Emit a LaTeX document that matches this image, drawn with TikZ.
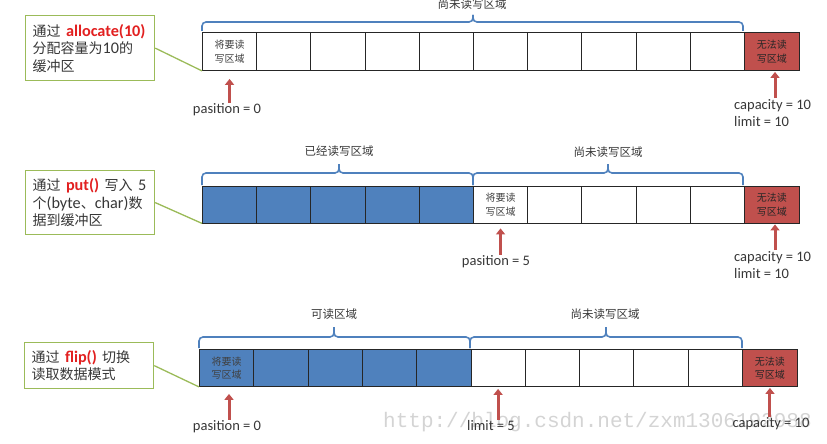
\documentclass[tikz,border=0pt]{standalone}
\usepackage{fontspec}
\setmainfont{Carlito}[Scale=1.16]
\newfontfamily\cjk{Noto Sans CJK SC}
\newfontfamily\wmfont{Liberation Mono}
\usetikzlibrary{arrows.meta}
\definecolor{cellblue}{RGB}{79,129,189}
\definecolor{cellred}{RGB}{192,80,77}
\definecolor{calloutgreen}{RGB}{155,187,89}
\definecolor{hlred}{RGB}{226,32,32}
\definecolor{txt}{RGB}{55,55,55}
\newcommand\zh[1]{{\cjk #1}}
\tikzset{
  cell/.style={draw=black!85, line width=0.9pt, inner sep=0pt, anchor=north west,
    font=\cjk\fontsize{10}{13.5}\selectfont, align=center, text=black!75},
  bluecell/.style={cell, fill=cellblue},
  redcell/.style={cell, fill=cellred, text=black!85},
  callout/.style={draw=calloutgreen, line width=1.2pt, fill=white, anchor=north west,
    text width=115pt, inner xsep=7pt, align=left, font=\fontsize{14}{17.5}\selectfont, text=txt},
  link/.style={draw=calloutgreen, line width=1.3pt},
  bracestyle/.style={draw=cellblue, line width=1.6pt, rounded corners=4pt},
  bracelabel/.style={font=\cjk\fontsize{11.5}{13}\selectfont, text=txt, inner sep=1pt},
  lbl/.style={font=\fontsize{12.5}{17}\selectfont, text=txt, inner sep=1pt},
  redarrow/.style={draw=cellred, line width=3pt, -{Triangle[width=9pt,length=6pt]}},
}
\begin{document}
\begin{tikzpicture}[x=1pt,y=-1pt]
\useasboundingbox (0,0) rectangle (827,444);
% watermark
\node[text=black!17, font=\wmfont\fontsize{21}{21}\selectfont, anchor=west, inner sep=0pt] (wm) at (383,422) {http://blog.csdn.net/zxm1306192988};

% ---------------- Row 1 ----------------
\node[cell, minimum width=54.2pt, minimum height=38pt] (a0) at (202,32) {将要读\\写区域};
\foreach \i in {1,...,9}
  \node[cell, minimum width=54.2pt, minimum height=38pt] (a\i) at ({202+\i*54.2},32) {};
\node[redcell, minimum width=55pt, minimum height=38pt] (a10) at (744,32) {无法读\\写区域};

\draw[bracestyle] (202,31) -- (202,22) -- (473,22) -- (473,15);
\draw[bracestyle] (473,15) -- (473,22) -- (743,22) -- (743,31);
\node[bracelabel] (ba1) at (472,4) {尚未读写区域};

\node[callout, minimum height=65pt] (c1) at (25,15)
  {\zh{通过} \textbf{\color{hlred}allocate(10)}\\\zh{分配容量为}10\zh{的}\\\zh{缓冲区}};
\draw[link] (c1.east) -- (a0.south west);

\node[lbl] (p1) at (227,110) {pasition = 0};
\draw[redarrow, shorten >=8pt] (p1.north -| a0.south) -- (a0.south);
\node[lbl, anchor=north west, align=left] (k1) at (733,98) {capacity = 10\\limit = 10};
\draw[redarrow, shorten >=1pt] (k1.north -| 775,0) -- (a10.south -| 775,0);

% ---------------- Row 2 ----------------
\foreach \i in {0,...,4}
  \node[bluecell, minimum width=54.2pt, minimum height=36.5pt] (b\i) at ({202+\i*54.2},186) {};
\node[cell, minimum width=54.2pt, minimum height=36.5pt] (b5) at ({202+5*54.2},186) {将要读\\写区域};
\foreach \i in {6,...,9}
  \node[cell, minimum width=54.2pt, minimum height=36.5pt] (b\i) at ({202+\i*54.2},186) {};
\node[redcell, minimum width=55pt, minimum height=36.5pt] (b10) at (744,186) {无法读\\写区域};

\draw[bracestyle] (202,185) -- (202,173) -- (339,173) -- (339,164);
\draw[bracestyle] (339,164) -- (339,173) -- (473,173) -- (473,185);
\draw[bracestyle] (473,185) -- (473,173) -- (608,173) -- (608,164);
\draw[bracestyle] (608,164) -- (608,173) -- (743,173) -- (743,185);
\node[bracelabel] (bb1) at (339,151) {已经读写区域};
\node[bracelabel] (bb2) at (608,152) {尚未读写区域};

\node[callout, minimum height=64pt] (c2) at (25,170)
  {\zh{通过} \textbf{\color{hlred}put()} \zh{写入} 5\\\zh{个}(byte\zh{、}char)\zh{数}\\\zh{据到缓冲区}};
\draw[link] (c2.east) -- (b0.south west);

\node[lbl] (p2) at (496,262) {pasition = 5};
\draw[redarrow, shorten >=5pt] (p2.north -| b5.south) -- (b5.south);
\node[lbl, anchor=north west, align=left] (k2) at (733,250) {capacity = 10\\limit = 10};
\draw[redarrow, shorten >=1pt] (k2.north -| 775,0) -- (b10.south -| 775,0);

% ---------------- Row 3 ----------------
\node[bluecell, minimum width=54.3pt, minimum height=37pt] (d0) at (199,349) {将要读\\写区域};
\foreach \i in {1,...,4}
  \node[bluecell, minimum width=54.3pt, minimum height=37pt] (d\i) at ({199+\i*54.3},349) {};
\foreach \i in {5,...,9}
  \node[cell, minimum width=54.3pt, minimum height=37pt] (d\i) at ({199+\i*54.3},349) {};
\node[redcell, minimum width=55pt, minimum height=37pt] (d10) at (742,349) {无法读\\写区域};

\draw[bracestyle] (199,348) -- (199,337) -- (334,337) -- (334,327);
\draw[bracestyle] (334,327) -- (334,337) -- (470,337) -- (470,348);
\draw[bracestyle] (470,348) -- (470,337) -- (606,337) -- (606,327);
\draw[bracestyle] (606,327) -- (606,337) -- (742,337) -- (742,348);
\node[bracelabel] (bc1) at (334,314) {可读区域};
\node[bracelabel] (bc2) at (605,314) {尚未读写区域};

\node[callout, minimum height=46pt] (c3) at (24,342)
  {\zh{通过} \textbf{\color{hlred}flip()} \zh{切换}\\\zh{读取数据模式}};
\draw[link] (c3.east) -- (d0.south west);

\node[lbl] (p3) at (227,427) {pasition = 0};
\draw[redarrow, shorten >=7pt] (p3.north -| 229,0) -- (d0.south -| 229,0);
\node[lbl] (l3) at (491,426) {limit = 5};
\draw[redarrow, shorten >=2pt] (l3.north -| d5.south) -- (d5.south);
\node[lbl] (k3) at (771,424) {capacity = 10};
\draw[redarrow, shorten >=1pt] (k3.north -| d10.south) -- (d10.south);
\end{tikzpicture}
\end{document}
